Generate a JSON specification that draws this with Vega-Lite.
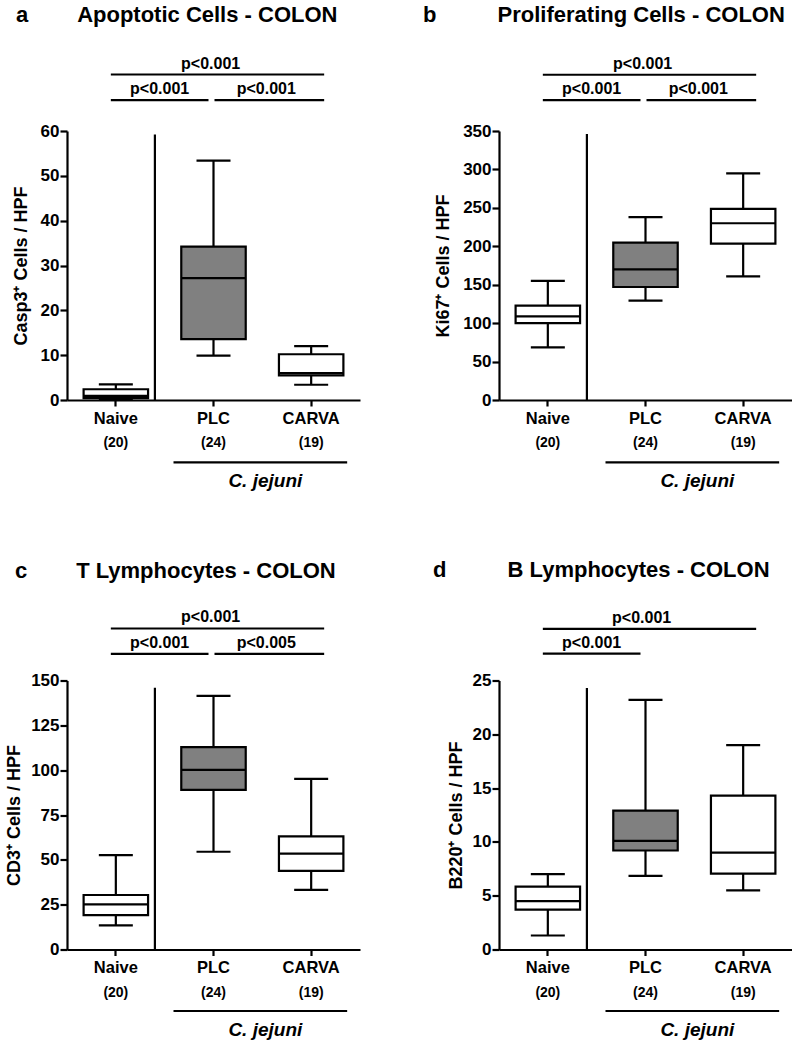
{
"$schema": "https://vega.github.io/schema/vega-lite/v6.json",
"padding": {"left": 5, "top": 3, "right": 0, "bottom": 0},
"columns": 2,
"spacing": {"row": 280.5, "column": 139},
"bounds": "flush",
"config": {
 "view": {"stroke": null},
 "font": "Liberation Sans",
 "axis": {"grid": false, "labelOverlap": false, "domainColor": "black", "domainWidth": 2.2, "tickColor": "black", "tickWidth": 2.2, "labelColor": "black", "labelFont": "Liberation Sans", "labelFontWeight": "bold", "titleFont": "Liberation Sans", "titleFontWeight": "bold", "titleColor": "black"},
 "axisX": {"tickSize": 6, "labelFontSize": 16.5, "labelAngle": 0, "labelPadding": 4},
 "axisY": {"tickSize": 7, "labelFontSize": 17, "labelPadding": 1, "titleFontSize": 18},
 "title": {"font": "Liberation Sans", "fontSize": 22, "fontWeight": "bold", "color": "black"}
},
"datasets": {
 "a_box": [
  {"group": "Naive", "low": 0, "q1": 0.4, "median": 0.9, "q3": 2.4, "high": 3.5, "n": "(20)"},
  {"group": "PLC", "low": 9.9, "q1": 13.6, "median": 27.2, "q3": 34.2, "high": 53.4, "n": "(24)"},
  {"group": "CARVA", "low": 3.4, "q1": 5.5, "median": 6.0, "q3": 10.2, "high": 12.0, "n": "(19)"}
 ],
 "b_box": [
  {"group": "Naive", "low": 68.5, "q1": 100, "median": 108.8, "q3": 122.7, "high": 155, "n": "(20)"},
  {"group": "PLC", "low": 129.2, "q1": 147, "median": 170, "q3": 204.8, "high": 238, "n": "(24)"},
  {"group": "CARVA", "low": 160.8, "q1": 203.5, "median": 230, "q3": 248.7, "high": 294.8, "n": "(19)"}
 ],
 "c_box": [
  {"group": "Naive", "low": 13.4, "q1": 19.2, "median": 25.2, "q3": 30.4, "high": 52.6, "n": "(20)"},
  {"group": "PLC", "low": 54.5, "q1": 89, "median": 100.2, "q3": 112.9, "high": 141.4, "n": "(24)"},
  {"group": "CARVA", "low": 33.2, "q1": 43.8, "median": 53.5, "q3": 63.1, "high": 95.1, "n": "(19)"}
 ],
 "d_box": [
  {"group": "Naive", "low": 1.3, "q1": 3.7, "median": 4.5, "q3": 5.85, "high": 7.0, "n": "(20)"},
  {"group": "PLC", "low": 6.85, "q1": 9.2, "median": 10.1, "q3": 12.9, "high": 23.2, "n": "(24)"},
  {"group": "CARVA", "low": 5.5, "q1": 7.05, "median": 9.0, "q3": 14.3, "high": 19.0, "n": "(19)"}
 ],
 "a_sig": [
  {"from": "Naive", "to": "CARVA", "label": "p<0.001", "row": "top"},
  {"from": "Naive", "to": "PLC", "label": "p<0.001", "row": "left"},
  {"from": "PLC", "to": "CARVA", "label": "p<0.001", "row": "right"}
 ],
 "b_sig": [
  {"from": "Naive", "to": "CARVA", "label": "p<0.001", "row": "top"},
  {"from": "Naive", "to": "PLC", "label": "p<0.001", "row": "left"},
  {"from": "PLC", "to": "CARVA", "label": "p<0.001", "row": "right"}
 ],
 "c_sig": [
  {"from": "Naive", "to": "CARVA", "label": "p<0.001", "row": "top"},
  {"from": "Naive", "to": "PLC", "label": "p<0.001", "row": "left"},
  {"from": "PLC", "to": "CARVA", "label": "p<0.005", "row": "right"}
 ],
 "d_sig": [
  {"from": "Naive", "to": "CARVA", "label": "p<0.001", "row": "top"},
  {"from": "Naive", "to": "PLC", "label": "p<0.001", "row": "left"}
 ]
},
"concat": [
 {
  "width": 293, "height": 269,
  "title": {"text": "a\u00a0\u00a0\u00a0\u00a0\u00a0\u00a0\u00a0\u00a0Apoptotic Cells - COLON", "anchor": "start", "frame": "group", "dx": -51, "offset": 29},
  "layer": [
   {"data": {"name": "a_box"}, "mark": {"type": "rule", "color": "black", "strokeWidth": 2.2},
    "encoding": {"x": {"field": "group", "type": "nominal", "scale": {"domain": ["Naive", "PLC", "CARVA"], "paddingInner": 0, "paddingOuter": 0}, "axis": {"title": null}},
     "y": {"field": "low", "type": "quantitative", "scale": {"domain": [0, 60], "nice": false}, "axis": {"title": "Casp3⁺ Cells / HPF", "values": [0, 10, 20, 30, 40, 50, 60], "labelOverlap": false, "titlePadding": 10}},
     "y2": {"field": "high"}}},
   {"data": {"name": "a_box"}, "mark": {"type": "bar", "width": {"band": 0.66}, "stroke": "black", "strokeWidth": 2.2},
    "encoding": {"x": {"field": "group", "type": "nominal", "scale": {"domain": ["Naive", "PLC", "CARVA"], "paddingInner": 0, "paddingOuter": 0}},
     "y": {"field": "q1", "type": "quantitative", "scale": {"domain": [0, 60], "nice": false}}, "y2": {"field": "q3"},
     "fill": {"field": "group", "type": "nominal", "scale": {"domain": ["Naive", "PLC", "CARVA"], "range": ["white", "#808080", "white"]}, "legend": null}}},
   {"data": {"name": "a_box"}, "mark": {"type": "tick", "size": 64, "thickness": 2.2, "color": "black", "opacity": 1},
    "encoding": {"x": {"field": "group", "type": "nominal", "scale": {"domain": ["Naive", "PLC", "CARVA"], "paddingInner": 0, "paddingOuter": 0}},
     "y": {"field": "median", "type": "quantitative", "scale": {"domain": [0, 60], "nice": false}}}},
   {"data": {"name": "a_box"}, "mark": {"type": "tick", "size": 34, "thickness": 2.2, "color": "black", "opacity": 1},
    "encoding": {"x": {"field": "group", "type": "nominal", "scale": {"domain": ["Naive", "PLC", "CARVA"], "paddingInner": 0, "paddingOuter": 0}},
     "y": {"field": "low", "type": "quantitative", "scale": {"domain": [0, 60], "nice": false}}}},
   {"data": {"name": "a_box"}, "mark": {"type": "tick", "size": 34, "thickness": 2.2, "color": "black", "opacity": 1},
    "encoding": {"x": {"field": "group", "type": "nominal", "scale": {"domain": ["Naive", "PLC", "CARVA"], "paddingInner": 0, "paddingOuter": 0}},
     "y": {"field": "high", "type": "quantitative", "scale": {"domain": [0, 60], "nice": false}}}},
   {"data": {"name": "a_box"}, "mark": {"type": "text", "dy": 47, "baseline": "alphabetic", "fontSize": 14, "fontWeight": "bold", "font": "Liberation Sans", "color": "black"},
    "encoding": {"x": {"field": "group", "type": "nominal", "scale": {"domain": ["Naive", "PLC", "CARVA"], "paddingInner": 0, "paddingOuter": 0}},
     "y": {"datum": 0, "type": "quantitative", "scale": {"domain": [0, 60], "nice": false}}, "text": {"field": "n"}}},
   {"data": {"values": [{}]}, "mark": {"type": "rule", "color": "black", "strokeWidth": 2.2},
    "encoding": {"x": {"datum": "Naive", "type": "nominal", "bandPosition": 0.9, "scale": {"domain": ["Naive", "PLC", "CARVA"], "paddingInner": 0, "paddingOuter": 0}},
     "y": {"datum": 0, "type": "quantitative", "scale": {"domain": [0, 60], "nice": false}}, "y2": {"datum": 59.2}}},
   {"data": {"values": [{}]}, "mark": {"type": "rule", "color": "black", "strokeWidth": 2.2, "xOffset": -40, "x2Offset": 36, "yOffset": 62.4},
    "encoding": {"x": {"datum": "PLC", "type": "nominal", "scale": {"domain": ["Naive", "PLC", "CARVA"], "paddingInner": 0, "paddingOuter": 0}}, "x2": {"datum": "CARVA"},
     "y": {"datum": 0, "type": "quantitative", "scale": {"domain": [0, 60], "nice": false}}}},
   {"data": {"values": [{}]}, "mark": {"type": "text", "text": "C. jejuni", "dx": 3, "dy": 87, "baseline": "alphabetic", "fontSize": 19, "fontWeight": "bold", "fontStyle": "italic", "font": "Liberation Sans", "color": "black"},
    "encoding": {"x": {"datum": "PLC", "type": "nominal", "bandPosition": 1, "scale": {"domain": ["Naive", "PLC", "CARVA"], "paddingInner": 0, "paddingOuter": 0}},
     "y": {"datum": 0, "type": "quantitative", "scale": {"domain": [0, 60], "nice": false}}}},
   {"data": {"name": "a_sig"}, "transform": [{"filter": "datum.row == 'top'"}],
    "layer": [
     {"mark": {"type": "rule", "color": "black", "strokeWidth": 2.2, "xOffset": -5, "x2Offset": 13},
      "encoding": {"x": {"field": "from", "type": "nominal", "scale": {"domain": ["Naive", "PLC", "CARVA"], "paddingInner": 0, "paddingOuter": 0}}, "x2": {"field": "to"},
       "y": {"datum": 72.6, "type": "quantitative", "scale": {"domain": [0, 60], "nice": false}}}},
     {"mark": {"type": "text", "dx": 46, "dy": -6, "baseline": "alphabetic", "fontSize": 16, "fontWeight": "bold", "font": "Liberation Sans", "color": "black"},
      "encoding": {"x": {"field": "from", "type": "nominal", "bandPosition": 1, "scale": {"domain": ["Naive", "PLC", "CARVA"], "paddingInner": 0, "paddingOuter": 0}},
       "y": {"datum": 72.6, "type": "quantitative", "scale": {"domain": [0, 60], "nice": false}}, "text": {"field": "label"}}}
    ]},
   {"data": {"name": "a_sig"}, "transform": [{"filter": "datum.row == 'left'"}],
    "layer": [
     {"mark": {"type": "rule", "color": "black", "strokeWidth": 2.2, "xOffset": -5, "x2Offset": -5},
      "encoding": {"x": {"field": "from", "type": "nominal", "scale": {"domain": ["Naive", "PLC", "CARVA"], "paddingInner": 0, "paddingOuter": 0}}, "x2": {"field": "to"},
       "y": {"datum": 66.9, "type": "quantitative", "scale": {"domain": [0, 60], "nice": false}}}},
     {"mark": {"type": "text", "dx": -5, "dy": -6, "baseline": "alphabetic", "fontSize": 16, "fontWeight": "bold", "font": "Liberation Sans", "color": "black"},
      "encoding": {"x": {"field": "from", "type": "nominal", "bandPosition": 1, "scale": {"domain": ["Naive", "PLC", "CARVA"], "paddingInner": 0, "paddingOuter": 0}},
       "y": {"datum": 66.9, "type": "quantitative", "scale": {"domain": [0, 60], "nice": false}}, "text": {"field": "label"}}}
    ]},
   {"data": {"name": "a_sig"}, "transform": [{"filter": "datum.row == 'right'"}],
    "layer": [
     {"mark": {"type": "rule", "color": "black", "strokeWidth": 2.2, "xOffset": 1, "x2Offset": 13},
      "encoding": {"x": {"field": "from", "type": "nominal", "scale": {"domain": ["Naive", "PLC", "CARVA"], "paddingInner": 0, "paddingOuter": 0}}, "x2": {"field": "to"},
       "y": {"datum": 66.9, "type": "quantitative", "scale": {"domain": [0, 60], "nice": false}}}},
     {"mark": {"type": "text", "dx": 4, "dy": -6, "baseline": "alphabetic", "fontSize": 16, "fontWeight": "bold", "font": "Liberation Sans", "color": "black"},
      "encoding": {"x": {"field": "from", "type": "nominal", "bandPosition": 1, "scale": {"domain": ["Naive", "PLC", "CARVA"], "paddingInner": 0, "paddingOuter": 0}},
       "y": {"datum": 66.9, "type": "quantitative", "scale": {"domain": [0, 60], "nice": false}}, "text": {"field": "label"}}}
    ]}
  ]
 },
 {
  "width": 293, "height": 269,
  "title": {"text": "b\u00a0\u00a0\u00a0\u00a0\u00a0\u00a0\u00a0\u00a0\u00a0\u00a0Proliferating Cells - COLON", "anchor": "start", "frame": "group", "dx": -76, "offset": 29},
  "layer": [
   {"data": {"name": "b_box"}, "mark": {"type": "rule", "color": "black", "strokeWidth": 2.2},
    "encoding": {"x": {"field": "group", "type": "nominal", "scale": {"domain": ["Naive", "PLC", "CARVA"], "paddingInner": 0, "paddingOuter": 0}, "axis": {"title": null}},
     "y": {"field": "low", "type": "quantitative", "scale": {"domain": [0, 350], "nice": false}, "axis": {"title": "Ki67⁺ Cells / HPF", "values": [0, 50, 100, 150, 200, 250, 300, 350], "tickCount": 8, "labelOverlap": false, "titlePadding": 10.3}},
     "y2": {"field": "high"}}},
   {"data": {"name": "b_box"}, "mark": {"type": "bar", "width": {"band": 0.66}, "stroke": "black", "strokeWidth": 2.2},
    "encoding": {"x": {"field": "group", "type": "nominal", "scale": {"domain": ["Naive", "PLC", "CARVA"], "paddingInner": 0, "paddingOuter": 0}},
     "y": {"field": "q1", "type": "quantitative", "scale": {"domain": [0, 350], "nice": false}}, "y2": {"field": "q3"},
     "fill": {"field": "group", "type": "nominal", "scale": {"domain": ["Naive", "PLC", "CARVA"], "range": ["white", "#808080", "white"]}, "legend": null}}},
   {"data": {"name": "b_box"}, "mark": {"type": "tick", "size": 64, "thickness": 2.2, "color": "black", "opacity": 1},
    "encoding": {"x": {"field": "group", "type": "nominal", "scale": {"domain": ["Naive", "PLC", "CARVA"], "paddingInner": 0, "paddingOuter": 0}},
     "y": {"field": "median", "type": "quantitative", "scale": {"domain": [0, 350], "nice": false}}}},
   {"data": {"name": "b_box"}, "mark": {"type": "tick", "size": 34, "thickness": 2.2, "color": "black", "opacity": 1},
    "encoding": {"x": {"field": "group", "type": "nominal", "scale": {"domain": ["Naive", "PLC", "CARVA"], "paddingInner": 0, "paddingOuter": 0}},
     "y": {"field": "low", "type": "quantitative", "scale": {"domain": [0, 350], "nice": false}}}},
   {"data": {"name": "b_box"}, "mark": {"type": "tick", "size": 34, "thickness": 2.2, "color": "black", "opacity": 1},
    "encoding": {"x": {"field": "group", "type": "nominal", "scale": {"domain": ["Naive", "PLC", "CARVA"], "paddingInner": 0, "paddingOuter": 0}},
     "y": {"field": "high", "type": "quantitative", "scale": {"domain": [0, 350], "nice": false}}}},
   {"data": {"name": "b_box"}, "mark": {"type": "text", "dy": 47, "baseline": "alphabetic", "fontSize": 14, "fontWeight": "bold", "font": "Liberation Sans", "color": "black"},
    "encoding": {"x": {"field": "group", "type": "nominal", "scale": {"domain": ["Naive", "PLC", "CARVA"], "paddingInner": 0, "paddingOuter": 0}},
     "y": {"datum": 0, "type": "quantitative", "scale": {"domain": [0, 350], "nice": false}}, "text": {"field": "n"}}},
   {"data": {"values": [{}]}, "mark": {"type": "rule", "color": "black", "strokeWidth": 2.2},
    "encoding": {"x": {"datum": "Naive", "type": "nominal", "bandPosition": 0.9, "scale": {"domain": ["Naive", "PLC", "CARVA"], "paddingInner": 0, "paddingOuter": 0}},
     "y": {"datum": 0, "type": "quantitative", "scale": {"domain": [0, 350], "nice": false}}, "y2": {"datum": 346}}},
   {"data": {"values": [{}]}, "mark": {"type": "rule", "color": "black", "strokeWidth": 2.2, "xOffset": -40, "x2Offset": 36, "yOffset": 62.4},
    "encoding": {"x": {"datum": "PLC", "type": "nominal", "scale": {"domain": ["Naive", "PLC", "CARVA"], "paddingInner": 0, "paddingOuter": 0}}, "x2": {"datum": "CARVA"},
     "y": {"datum": 0, "type": "quantitative", "scale": {"domain": [0, 350], "nice": false}}}},
   {"data": {"values": [{}]}, "mark": {"type": "text", "text": "C. jejuni", "dx": 3, "dy": 87, "baseline": "alphabetic", "fontSize": 19, "fontWeight": "bold", "fontStyle": "italic", "font": "Liberation Sans", "color": "black"},
    "encoding": {"x": {"datum": "PLC", "type": "nominal", "bandPosition": 1, "scale": {"domain": ["Naive", "PLC", "CARVA"], "paddingInner": 0, "paddingOuter": 0}},
     "y": {"datum": 0, "type": "quantitative", "scale": {"domain": [0, 350], "nice": false}}}},
   {"data": {"name": "b_sig"}, "transform": [{"filter": "datum.row == 'top'"}],
    "layer": [
     {"mark": {"type": "rule", "color": "black", "strokeWidth": 2.2, "xOffset": -5, "x2Offset": 13},
      "encoding": {"x": {"field": "from", "type": "nominal", "scale": {"domain": ["Naive", "PLC", "CARVA"], "paddingInner": 0, "paddingOuter": 0}}, "x2": {"field": "to"},
       "y": {"datum": 423.2, "type": "quantitative", "scale": {"domain": [0, 350], "nice": false}}}},
     {"mark": {"type": "text", "dx": 46, "dy": -6, "baseline": "alphabetic", "fontSize": 16, "fontWeight": "bold", "font": "Liberation Sans", "color": "black"},
      "encoding": {"x": {"field": "from", "type": "nominal", "bandPosition": 1, "scale": {"domain": ["Naive", "PLC", "CARVA"], "paddingInner": 0, "paddingOuter": 0}},
       "y": {"datum": 423.2, "type": "quantitative", "scale": {"domain": [0, 350], "nice": false}}, "text": {"field": "label"}}}
    ]},
   {"data": {"name": "b_sig"}, "transform": [{"filter": "datum.row == 'left'"}],
    "layer": [
     {"mark": {"type": "rule", "color": "black", "strokeWidth": 2.2, "xOffset": -5, "x2Offset": -5},
      "encoding": {"x": {"field": "from", "type": "nominal", "scale": {"domain": ["Naive", "PLC", "CARVA"], "paddingInner": 0, "paddingOuter": 0}}, "x2": {"field": "to"},
       "y": {"datum": 390.3, "type": "quantitative", "scale": {"domain": [0, 350], "nice": false}}}},
     {"mark": {"type": "text", "dx": -5, "dy": -6, "baseline": "alphabetic", "fontSize": 16, "fontWeight": "bold", "font": "Liberation Sans", "color": "black"},
      "encoding": {"x": {"field": "from", "type": "nominal", "bandPosition": 1, "scale": {"domain": ["Naive", "PLC", "CARVA"], "paddingInner": 0, "paddingOuter": 0}},
       "y": {"datum": 390.3, "type": "quantitative", "scale": {"domain": [0, 350], "nice": false}}, "text": {"field": "label"}}}
    ]},
   {"data": {"name": "b_sig"}, "transform": [{"filter": "datum.row == 'right'"}],
    "layer": [
     {"mark": {"type": "rule", "color": "black", "strokeWidth": 2.2, "xOffset": 1, "x2Offset": 13},
      "encoding": {"x": {"field": "from", "type": "nominal", "scale": {"domain": ["Naive", "PLC", "CARVA"], "paddingInner": 0, "paddingOuter": 0}}, "x2": {"field": "to"},
       "y": {"datum": 390.3, "type": "quantitative", "scale": {"domain": [0, 350], "nice": false}}}},
     {"mark": {"type": "text", "dx": 4, "dy": -6, "baseline": "alphabetic", "fontSize": 16, "fontWeight": "bold", "font": "Liberation Sans", "color": "black"},
      "encoding": {"x": {"field": "from", "type": "nominal", "bandPosition": 1, "scale": {"domain": ["Naive", "PLC", "CARVA"], "paddingInner": 0, "paddingOuter": 0}},
       "y": {"datum": 390.3, "type": "quantitative", "scale": {"domain": [0, 350], "nice": false}}, "text": {"field": "label"}}}
    ]}
  ]
 },
 {
  "width": 293, "height": 269,
  "title": {"text": "c\u00a0\u00a0\u00a0\u00a0\u00a0\u00a0\u00a0\u00a0T Lymphocytes - COLON", "anchor": "start", "frame": "group", "dx": -52, "offset": 26},
  "layer": [
   {"data": {"name": "c_box"}, "mark": {"type": "rule", "color": "black", "strokeWidth": 2.2},
    "encoding": {"x": {"field": "group", "type": "nominal", "scale": {"domain": ["Naive", "PLC", "CARVA"], "paddingInner": 0, "paddingOuter": 0}, "axis": {"title": null}},
     "y": {"field": "low", "type": "quantitative", "scale": {"domain": [0, 150], "nice": false}, "axis": {"title": "CD3⁺ Cells / HPF", "values": [0, 25, 50, 75, 100, 125, 150], "labelOverlap": false, "titlePadding": 7.5}},
     "y2": {"field": "high"}}},
   {"data": {"name": "c_box"}, "mark": {"type": "bar", "width": {"band": 0.66}, "stroke": "black", "strokeWidth": 2.2},
    "encoding": {"x": {"field": "group", "type": "nominal", "scale": {"domain": ["Naive", "PLC", "CARVA"], "paddingInner": 0, "paddingOuter": 0}},
     "y": {"field": "q1", "type": "quantitative", "scale": {"domain": [0, 150], "nice": false}}, "y2": {"field": "q3"},
     "fill": {"field": "group", "type": "nominal", "scale": {"domain": ["Naive", "PLC", "CARVA"], "range": ["white", "#808080", "white"]}, "legend": null}}},
   {"data": {"name": "c_box"}, "mark": {"type": "tick", "size": 64, "thickness": 2.2, "color": "black", "opacity": 1},
    "encoding": {"x": {"field": "group", "type": "nominal", "scale": {"domain": ["Naive", "PLC", "CARVA"], "paddingInner": 0, "paddingOuter": 0}},
     "y": {"field": "median", "type": "quantitative", "scale": {"domain": [0, 150], "nice": false}}}},
   {"data": {"name": "c_box"}, "mark": {"type": "tick", "size": 34, "thickness": 2.2, "color": "black", "opacity": 1},
    "encoding": {"x": {"field": "group", "type": "nominal", "scale": {"domain": ["Naive", "PLC", "CARVA"], "paddingInner": 0, "paddingOuter": 0}},
     "y": {"field": "low", "type": "quantitative", "scale": {"domain": [0, 150], "nice": false}}}},
   {"data": {"name": "c_box"}, "mark": {"type": "tick", "size": 34, "thickness": 2.2, "color": "black", "opacity": 1},
    "encoding": {"x": {"field": "group", "type": "nominal", "scale": {"domain": ["Naive", "PLC", "CARVA"], "paddingInner": 0, "paddingOuter": 0}},
     "y": {"field": "high", "type": "quantitative", "scale": {"domain": [0, 150], "nice": false}}}},
   {"data": {"name": "c_box"}, "mark": {"type": "text", "dy": 47, "baseline": "alphabetic", "fontSize": 14, "fontWeight": "bold", "font": "Liberation Sans", "color": "black"},
    "encoding": {"x": {"field": "group", "type": "nominal", "scale": {"domain": ["Naive", "PLC", "CARVA"], "paddingInner": 0, "paddingOuter": 0}},
     "y": {"datum": 0, "type": "quantitative", "scale": {"domain": [0, 150], "nice": false}}, "text": {"field": "n"}}},
   {"data": {"values": [{}]}, "mark": {"type": "rule", "color": "black", "strokeWidth": 2.2},
    "encoding": {"x": {"datum": "Naive", "type": "nominal", "bandPosition": 0.9, "scale": {"domain": ["Naive", "PLC", "CARVA"], "paddingInner": 0, "paddingOuter": 0}},
     "y": {"datum": 0, "type": "quantitative", "scale": {"domain": [0, 150], "nice": false}}, "y2": {"datum": 146}}},
   {"data": {"values": [{}]}, "mark": {"type": "rule", "color": "black", "strokeWidth": 2.2, "xOffset": -40, "x2Offset": 36, "yOffset": 61.5},
    "encoding": {"x": {"datum": "PLC", "type": "nominal", "scale": {"domain": ["Naive", "PLC", "CARVA"], "paddingInner": 0, "paddingOuter": 0}}, "x2": {"datum": "CARVA"},
     "y": {"datum": 0, "type": "quantitative", "scale": {"domain": [0, 150], "nice": false}}}},
   {"data": {"values": [{}]}, "mark": {"type": "text", "text": "C. jejuni", "dx": 3, "dy": 86, "baseline": "alphabetic", "fontSize": 19, "fontWeight": "bold", "fontStyle": "italic", "font": "Liberation Sans", "color": "black"},
    "encoding": {"x": {"datum": "PLC", "type": "nominal", "bandPosition": 1, "scale": {"domain": ["Naive", "PLC", "CARVA"], "paddingInner": 0, "paddingOuter": 0}},
     "y": {"datum": 0, "type": "quantitative", "scale": {"domain": [0, 150], "nice": false}}}},
   {"data": {"name": "c_sig"}, "transform": [{"filter": "datum.row == 'top'"}],
    "layer": [
     {"mark": {"type": "rule", "color": "black", "strokeWidth": 2.2, "xOffset": -5, "x2Offset": 13},
      "encoding": {"x": {"field": "from", "type": "nominal", "scale": {"domain": ["Naive", "PLC", "CARVA"], "paddingInner": 0, "paddingOuter": 0}}, "x2": {"field": "to"},
       "y": {"datum": 179, "type": "quantitative", "scale": {"domain": [0, 150], "nice": false}}}},
     {"mark": {"type": "text", "dx": 46, "dy": -6, "baseline": "alphabetic", "fontSize": 16, "fontWeight": "bold", "font": "Liberation Sans", "color": "black"},
      "encoding": {"x": {"field": "from", "type": "nominal", "bandPosition": 1, "scale": {"domain": ["Naive", "PLC", "CARVA"], "paddingInner": 0, "paddingOuter": 0}},
       "y": {"datum": 179, "type": "quantitative", "scale": {"domain": [0, 150], "nice": false}}, "text": {"field": "label"}}}
    ]},
   {"data": {"name": "c_sig"}, "transform": [{"filter": "datum.row == 'left'"}],
    "layer": [
     {"mark": {"type": "rule", "color": "black", "strokeWidth": 2.2, "xOffset": -5, "x2Offset": -5},
      "encoding": {"x": {"field": "from", "type": "nominal", "scale": {"domain": ["Naive", "PLC", "CARVA"], "paddingInner": 0, "paddingOuter": 0}}, "x2": {"field": "to"},
       "y": {"datum": 164.8, "type": "quantitative", "scale": {"domain": [0, 150], "nice": false}}}},
     {"mark": {"type": "text", "dx": -5, "dy": -6, "baseline": "alphabetic", "fontSize": 16, "fontWeight": "bold", "font": "Liberation Sans", "color": "black"},
      "encoding": {"x": {"field": "from", "type": "nominal", "bandPosition": 1, "scale": {"domain": ["Naive", "PLC", "CARVA"], "paddingInner": 0, "paddingOuter": 0}},
       "y": {"datum": 164.8, "type": "quantitative", "scale": {"domain": [0, 150], "nice": false}}, "text": {"field": "label"}}}
    ]},
   {"data": {"name": "c_sig"}, "transform": [{"filter": "datum.row == 'right'"}],
    "layer": [
     {"mark": {"type": "rule", "color": "black", "strokeWidth": 2.2, "xOffset": 1, "x2Offset": 13},
      "encoding": {"x": {"field": "from", "type": "nominal", "scale": {"domain": ["Naive", "PLC", "CARVA"], "paddingInner": 0, "paddingOuter": 0}}, "x2": {"field": "to"},
       "y": {"datum": 164.8, "type": "quantitative", "scale": {"domain": [0, 150], "nice": false}}}},
     {"mark": {"type": "text", "dx": 4, "dy": -6, "baseline": "alphabetic", "fontSize": 16, "fontWeight": "bold", "font": "Liberation Sans", "color": "black"},
      "encoding": {"x": {"field": "from", "type": "nominal", "bandPosition": 1, "scale": {"domain": ["Naive", "PLC", "CARVA"], "paddingInner": 0, "paddingOuter": 0}},
       "y": {"datum": 164.8, "type": "quantitative", "scale": {"domain": [0, 150], "nice": false}}, "text": {"field": "label"}}}
    ]}
  ]
 },
 {
  "width": 293, "height": 269,
  "title": {"text": "d\u00a0\u00a0\u00a0\u00a0\u00a0\u00a0\u00a0\u00a0\u00a0\u00a0B Lymphocytes - COLON", "anchor": "start", "frame": "group", "dx": -66, "offset": 28},
  "layer": [
   {"data": {"name": "d_box"}, "mark": {"type": "rule", "color": "black", "strokeWidth": 2.2},
    "encoding": {"x": {"field": "group", "type": "nominal", "scale": {"domain": ["Naive", "PLC", "CARVA"], "paddingInner": 0, "paddingOuter": 0}, "axis": {"title": null}},
     "y": {"field": "low", "type": "quantitative", "scale": {"domain": [0, 25], "nice": false}, "axis": {"title": "B220⁺ Cells / HPF", "values": [0, 5, 10, 15, 20, 25], "labelOverlap": false, "titlePadding": 7}},
     "y2": {"field": "high"}}},
   {"data": {"name": "d_box"}, "mark": {"type": "bar", "width": {"band": 0.66}, "stroke": "black", "strokeWidth": 2.2},
    "encoding": {"x": {"field": "group", "type": "nominal", "scale": {"domain": ["Naive", "PLC", "CARVA"], "paddingInner": 0, "paddingOuter": 0}},
     "y": {"field": "q1", "type": "quantitative", "scale": {"domain": [0, 25], "nice": false}}, "y2": {"field": "q3"},
     "fill": {"field": "group", "type": "nominal", "scale": {"domain": ["Naive", "PLC", "CARVA"], "range": ["white", "#808080", "white"]}, "legend": null}}},
   {"data": {"name": "d_box"}, "mark": {"type": "tick", "size": 64, "thickness": 2.2, "color": "black", "opacity": 1},
    "encoding": {"x": {"field": "group", "type": "nominal", "scale": {"domain": ["Naive", "PLC", "CARVA"], "paddingInner": 0, "paddingOuter": 0}},
     "y": {"field": "median", "type": "quantitative", "scale": {"domain": [0, 25], "nice": false}}}},
   {"data": {"name": "d_box"}, "mark": {"type": "tick", "size": 34, "thickness": 2.2, "color": "black", "opacity": 1},
    "encoding": {"x": {"field": "group", "type": "nominal", "scale": {"domain": ["Naive", "PLC", "CARVA"], "paddingInner": 0, "paddingOuter": 0}},
     "y": {"field": "low", "type": "quantitative", "scale": {"domain": [0, 25], "nice": false}}}},
   {"data": {"name": "d_box"}, "mark": {"type": "tick", "size": 34, "thickness": 2.2, "color": "black", "opacity": 1},
    "encoding": {"x": {"field": "group", "type": "nominal", "scale": {"domain": ["Naive", "PLC", "CARVA"], "paddingInner": 0, "paddingOuter": 0}},
     "y": {"field": "high", "type": "quantitative", "scale": {"domain": [0, 25], "nice": false}}}},
   {"data": {"name": "d_box"}, "mark": {"type": "text", "dy": 47, "baseline": "alphabetic", "fontSize": 14, "fontWeight": "bold", "font": "Liberation Sans", "color": "black"},
    "encoding": {"x": {"field": "group", "type": "nominal", "scale": {"domain": ["Naive", "PLC", "CARVA"], "paddingInner": 0, "paddingOuter": 0}},
     "y": {"datum": 0, "type": "quantitative", "scale": {"domain": [0, 25], "nice": false}}, "text": {"field": "n"}}},
   {"data": {"values": [{}]}, "mark": {"type": "rule", "color": "black", "strokeWidth": 2.2},
    "encoding": {"x": {"datum": "Naive", "type": "nominal", "bandPosition": 0.9, "scale": {"domain": ["Naive", "PLC", "CARVA"], "paddingInner": 0, "paddingOuter": 0}},
     "y": {"datum": 0, "type": "quantitative", "scale": {"domain": [0, 25], "nice": false}}, "y2": {"datum": 24.3}}},
   {"data": {"values": [{}]}, "mark": {"type": "rule", "color": "black", "strokeWidth": 2.2, "xOffset": -40, "x2Offset": 36, "yOffset": 61.5},
    "encoding": {"x": {"datum": "PLC", "type": "nominal", "scale": {"domain": ["Naive", "PLC", "CARVA"], "paddingInner": 0, "paddingOuter": 0}}, "x2": {"datum": "CARVA"},
     "y": {"datum": 0, "type": "quantitative", "scale": {"domain": [0, 25], "nice": false}}}},
   {"data": {"values": [{}]}, "mark": {"type": "text", "text": "C. jejuni", "dx": 3, "dy": 86, "baseline": "alphabetic", "fontSize": 19, "fontWeight": "bold", "fontStyle": "italic", "font": "Liberation Sans", "color": "black"},
    "encoding": {"x": {"datum": "PLC", "type": "nominal", "bandPosition": 1, "scale": {"domain": ["Naive", "PLC", "CARVA"], "paddingInner": 0, "paddingOuter": 0}},
     "y": {"datum": 0, "type": "quantitative", "scale": {"domain": [0, 25], "nice": false}}}},
   {"data": {"name": "d_sig"}, "transform": [{"filter": "datum.row == 'top'"}],
    "layer": [
     {"mark": {"type": "rule", "color": "black", "strokeWidth": 2.2, "xOffset": -5, "x2Offset": 13},
      "encoding": {"x": {"field": "from", "type": "nominal", "scale": {"domain": ["Naive", "PLC", "CARVA"], "paddingInner": 0, "paddingOuter": 0}}, "x2": {"field": "to"},
       "y": {"datum": 29.8, "type": "quantitative", "scale": {"domain": [0, 25], "nice": false}}}},
     {"mark": {"type": "text", "dx": 45, "dy": -6, "baseline": "alphabetic", "fontSize": 16, "fontWeight": "bold", "font": "Liberation Sans", "color": "black"},
      "encoding": {"x": {"field": "from", "type": "nominal", "bandPosition": 1, "scale": {"domain": ["Naive", "PLC", "CARVA"], "paddingInner": 0, "paddingOuter": 0}},
       "y": {"datum": 29.8, "type": "quantitative", "scale": {"domain": [0, 25], "nice": false}}, "text": {"field": "label"}}}
    ]},
   {"data": {"name": "d_sig"}, "transform": [{"filter": "datum.row == 'left'"}],
    "layer": [
     {"mark": {"type": "rule", "color": "black", "strokeWidth": 2.2, "xOffset": -5, "x2Offset": -5},
      "encoding": {"x": {"field": "from", "type": "nominal", "scale": {"domain": ["Naive", "PLC", "CARVA"], "paddingInner": 0, "paddingOuter": 0}}, "x2": {"field": "to"},
       "y": {"datum": 27.5, "type": "quantitative", "scale": {"domain": [0, 25], "nice": false}}}},
     {"mark": {"type": "text", "dx": -5, "dy": -6, "baseline": "alphabetic", "fontSize": 16, "fontWeight": "bold", "font": "Liberation Sans", "color": "black"},
      "encoding": {"x": {"field": "from", "type": "nominal", "bandPosition": 1, "scale": {"domain": ["Naive", "PLC", "CARVA"], "paddingInner": 0, "paddingOuter": 0}},
       "y": {"datum": 27.5, "type": "quantitative", "scale": {"domain": [0, 25], "nice": false}}, "text": {"field": "label"}}}
    ]}
  ]
 }
]
}
